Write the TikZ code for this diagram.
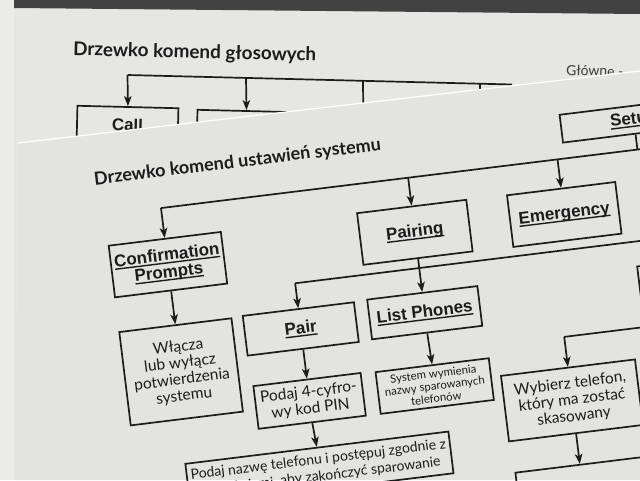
\documentclass[tikz,border=0pt]{standalone}
\usepackage{fontspec}
\setmainfont{Lato}
\newfontfamily\lblfont{Liberation Sans}
\usetikzlibrary{arrows.meta}
\definecolor{ink}{HTML}{1C1C1C}
\definecolor{paperA}{HTML}{E3E3E1}
\definecolor{paperB}{HTML}{E6E6E4}
\definecolor{desk}{HTML}{424242}
\definecolor{strip}{HTML}{ECECEB}
\newcommand\uln[1]{\leavevmode\setbox0=\hbox{#1}\rlap{\rule[-3pt]{\wd0}{1.4pt}}\box0}
\begin{document}
\begin{tikzpicture}[x=1pt,y=-1pt,
  box/.style={draw=ink, line width=1.7pt, inner sep=0pt, align=center, text=ink},
  lbl/.style={font=\lblfont\bfseries\fontsize{17}{17}\selectfont},
  txt/.style={font=\fontsize{15.5}{16.5}\selectfont},
  conn/.style={draw=ink, line width=1.7pt},
  arr/.style={conn, -{Stealth[length=10pt,width=7.5pt,inset=2.5pt]}},
  ttl/.style={font=\bfseries\fontsize{18}{18}\selectfont, text=ink, anchor=west, inner sep=0pt}
]
\useasboundingbox (0,0) rectangle (640,480);
\clip (0,0) rectangle (640,480);
\fill[paperB] (0,0) rectangle (640,480);
\fill[strip] (0,0) rectangle (14,480);
\fill[desk] (14,0) -- (640,0) -- (640,14) -- (14,8) -- cycle;
% back sheet
\node[ttl, font=\bfseries\fontsize{18.9}{19}\selectfont, rotate=-1.4] (t1) at (73,50) {Drzewko komend głosowych};
\coordinate (b0) at (127.5,75);
\coordinate (b1) at (246,77.9);
\coordinate (b2) at (363,80.8);
\coordinate (b3) at (480,83.7);
\coordinate (bend) at (512,84.5);
\coordinate (b2t) at (363.3,116);
\coordinate (b3t) at (480,96);
\draw[conn] (b0) -- (bend);
\node[box, lbl, rotate=-1.4, minimum width=101pt, minimum height=36pt] (call) at (127.5,125) {Call};
\node[box, rotate=-1.4, minimum width=98pt, minimum height=40pt] (bx2) at (246,131) {};
\draw[arr] (b0) -- (call.north);
\draw[arr] (b1) -- (bx2.north);
\draw[arr] (b2) -- (b2t);
\draw[conn] (b3) -- (b3t);
\node[font=\fontsize{14}{14}\selectfont, text=ink!85, anchor=west, inner sep=0pt, rotate=-1.4] (glowne) at (566,70) {Główne -};
% front sheet
\fill[paperA] (18,143) -- (640,71) -- (640,480) -- (16,480) -- cycle;
\draw[white, line width=1.2pt] (18,143) -- (640,71);
\begin{scope}[shift={(18,143)}, rotate=7, transform shape]
\node[ttl] (t2) at (71,46) {Drzewko komend ustawień systemu};
\node[box, lbl, minimum width=146pt, minimum height=28pt] (setup) at (614,52) {\uln{Setup}};
\node[box, lbl, minimum width=113pt, minimum height=52pt] (conf) at (134,139) {\uln{Confirmation}\\\uln{Prompts}};
\node[box, lbl, minimum width=110pt, minimum height=52pt] (pairing) at (383,137) {\uln{Pairing}};
\node[box, lbl, minimum width=109pt, minimum height=52pt] (emerg) at (533.5,137.5) {\uln{Emergency}};
\coordinate (m1) at (134,82);
\coordinate (m2) at (383,82);
\coordinate (m3) at (533.5,82);
\coordinate (m4) at (614,82);
\coordinate (mend) at (720,82);
\draw[conn] (m1) -- (mend);
\draw[conn] (setup.south) -- (m4);
\draw[arr] (m1) -- (conf.north);
\draw[arr] (m2) -- (pairing.north);
\draw[arr] (m3) -- (emerg.north);
\node[box, txt, minimum width=113pt, minimum height=94pt] (wl) at (134,247) {Włącza\\lub wyłącz\\potwierdzenia\\systemu};
\draw[arr] (conf.south) -- (wl.north);
\coordinate (p1) at (258,173);
\coordinate (p3) at (655,173);
\coordinate (pend) at (720,173);
\draw[conn] (p1) -- (pend);
\node[box, lbl, minimum width=112pt, minimum height=40pt] (pair) at (258,219) {\uln{Pair}};
\node[box, lbl, minimum width=111pt, minimum height=40pt] (lp) at (383,218) {\uln{List Phones}};
\node[box, minimum width=111pt, minimum height=40pt] (del) at (655,218) {};
\draw[arr] (p1) -- (pair.north);
\draw[arr] (pairing.south) -- (lp.north);
\draw[arr] (p3) -- (del.north);
\node[box, txt, minimum width=108pt, minimum height=43pt] (pin) at (258,291.5) {Podaj 4-cyfro-\\wy kod PIN};
\node[box, font=\fontsize{11.4}{12.4}\selectfont, minimum width=114pt, minimum height=42pt] (sys) at (384,292) {System wymienia\\nazwy sparowanych\\telefonów};
\draw[arr] (pair.south) -- (pin.north);
\draw[arr] (lp.south) -- (sys.north);
\node[box, font=\fontsize{14}{17}\selectfont, minimum width=265pt, minimum height=42pt, anchor=north] (bot) at (259.5,338) {Podaj nazwę telefonu i postępuj zgodnie z\\instrukcjami, aby zakończyć sparowanie};
\draw[arr] (pin.south) -- (bot.north);
\coordinate (d1) at (655,259);
\coordinate (w1) at (518.5,259);
\draw[conn] (del.south) -- (d1) -- (w1);
\node[box, txt, minimum width=135pt, minimum height=66pt] (wyb) at (518.5,323) {Wybierz telefon,\\który ma zostać\\skasowany};
\draw[arr] (w1) -- (wyb.north);
\node[box, minimum width=130pt, minimum height=68pt, anchor=north] (nx) at (518.5,387) {};
\draw[arr] (wyb.south) -- (nx.north);
\end{scope}
\end{tikzpicture}
\end{document}
